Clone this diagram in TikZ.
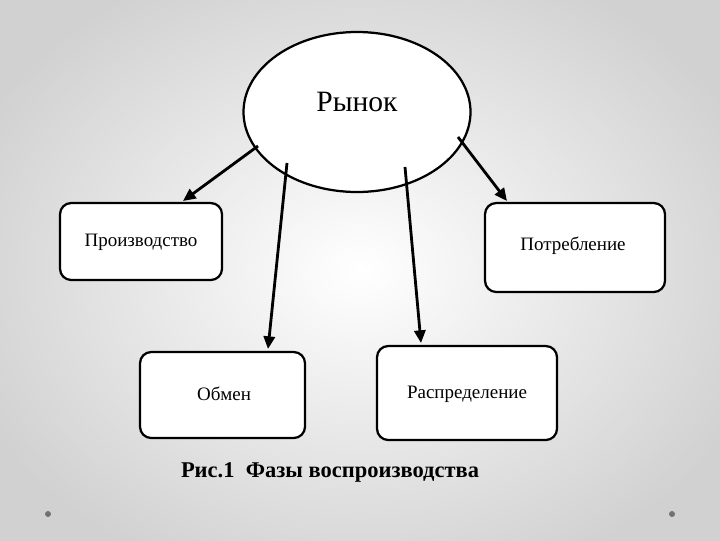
\documentclass[tikz,border=0pt]{standalone}
\usepackage{fontspec}
\setmainfont{Liberation Serif}
\usetikzlibrary{arrows.meta,shapes.geometric}
\begin{document}
\begin{tikzpicture}[x=0.025cm,y=-0.025cm,
  box/.style={draw,line width=1.6pt,rounded corners=8pt,fill=white},
  arr/.style={line width=2pt,-{Triangle[length=9pt,width=8pt]}},
  txt/.style={font=\fontsize{13.5}{15}\selectfont}]
\useasboundingbox (0,0) rectangle (720,540);
\begin{scope}
\clip (0,0) rectangle (720,540);
\shade[inner color=white,outer color=black!18] (-60,-60) rectangle (780,600);
\end{scope}
\fill[black!55] (48,514) circle (3);
\fill[black!55] (672,514) circle (3);
\node[draw,line width=1.6pt,ellipse,fill=white,minimum width=227*0.025cm,minimum height=160*0.025cm] (r) at (357,112) {};
\node[font=\fontsize{21}{23}\selectfont] at (357,102) {Рынок};
\draw[box] (60,203) rectangle (222,280);
\node[txt] (p) at (141,242) {Производство};
\draw[box] (485,203) rectangle (665,292);
\node[txt] (c) at (573,246) {Потребление};
\draw[box] (140,352) rectangle (305,438);
\node[txt] (o) at (224,394) {Обмен};
\draw[box] (377,346) rectangle (557,440);
\node[txt] (d) at (467,394) {Распределение};
\coordinate (a1) at (258,146); \coordinate (b1) at (183,201);
\coordinate (a2) at (287,163); \coordinate (b2) at (268,349);
\coordinate (a3) at (405,167); \coordinate (b3) at (421,343);
\coordinate (a4) at (458,137); \coordinate (b4) at (507,201);
\draw[arr] (a1) -- (b1);
\draw[arr] (a2) -- (b2);
\draw[arr] (a3) -- (b3);
\draw[arr] (a4) -- (b4);
\node[font=\bfseries\fontsize{16}{18}\selectfont] at (330,472) {Рис.1\ \ Фазы воспроизводства};
\end{tikzpicture}
\end{document}
